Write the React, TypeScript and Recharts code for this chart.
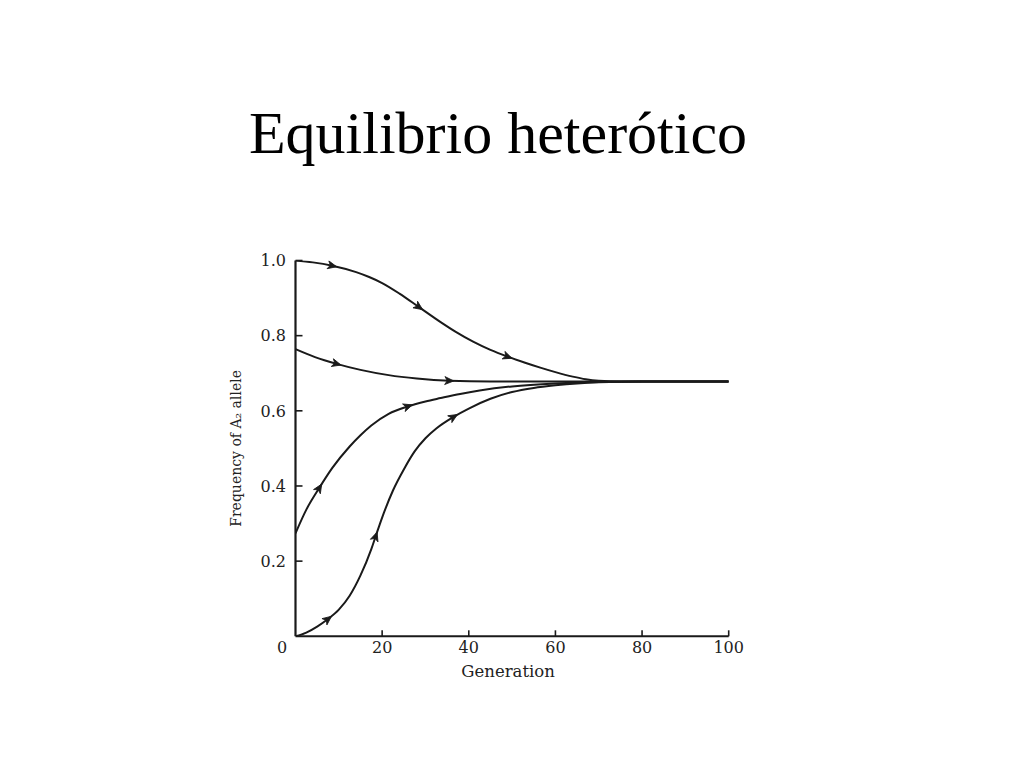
import { LineChart, Line, XAxis, YAxis } from 'recharts'

const GEN_A = [0, 4, 8.5, 14, 17, 20, 24, 28.5, 33.5, 37, 41, 45, 49, 53, 56.5, 60, 64, 67, 70, 75, 80, 90, 100]
const FREQ_A = [1.0, 0.995, 0.986, 0.969, 0.956, 0.94, 0.912, 0.876, 0.836, 0.81, 0.784, 0.762, 0.744, 0.728, 0.715, 0.703, 0.691, 0.684, 0.68, 0.678, 0.678, 0.678, 0.678]
const ARROWS_A = [8.5, 28.5, 49]

const GEN_B = [0, 4.5, 9.5, 15, 21.5, 28, 35.5, 45, 60, 80, 100]
const FREQ_B = [0.764, 0.743, 0.725, 0.709, 0.695, 0.686, 0.68, 0.678, 0.678, 0.678, 0.678]
const ARROWS_B = [9.5, 35.5]

const GEN_C = [0, 2.5, 5.5, 8.5, 12.5, 15, 17.5, 21.5, 26, 30, 33.5, 38, 42.5, 50, 60, 70, 80, 100]
const FREQ_C = [0.274, 0.337, 0.395, 0.448, 0.505, 0.535, 0.561, 0.592, 0.612, 0.625, 0.634, 0.645, 0.654, 0.665, 0.673, 0.677, 0.678, 0.678]
const ARROWS_C = [5.5, 26]

const GEN_D = [0, 2.5, 5, 7.5, 10, 12.5, 15, 17.5, 18.5, 20, 22.5, 25, 27.5, 30, 32.5, 36.5, 40, 45, 50, 55, 60, 65, 70, 80, 90, 100]
const FREQ_D = [0, 0.01, 0.026, 0.046, 0.071, 0.108, 0.162, 0.232, 0.266, 0.316, 0.388, 0.444, 0.492, 0.527, 0.553, 0.584, 0.606, 0.632, 0.65, 0.661, 0.668, 0.673, 0.676, 0.678, 0.678, 0.678]
const ARROWS_D = [7.5, 18.5, 36.5]

const X_TICKS = [0, 20, 40, 60, 80, 100]
const Y_TICKS = [0.2, 0.4, 0.6, 0.8, 1.0]

const TITLE = 'Equilibrio heterótico'
const X_LABEL = 'Generation'
const Y_LABEL = 'Frequency of A\u2082 allele'

const W = 1024
const H = 768
const MARGIN = { top: 260.5, right: 295.3, bottom: 91.7, left: 235.5 }
const Y_AXIS_W = 60
const X_AXIS_H = 40
const PLOT_W = W - MARGIN.left - Y_AXIS_W - MARGIN.right
const PLOT_H = H - MARGIN.top - MARGIN.bottom - X_AXIS_H

const INK = '#1a1a1a'
const TEXT = '#222'
const FONT = '"DejaVu Serif", serif'

const toRows = (gens: number[], vals: number[]) => gens.map((g, i) => ({ gen: g, freq: vals[i] }))

// arrowhead drawn on selected points, pointing along the curve
function makeArrowDot(gens: number[], vals: number[], arrows: number[]) {
  return (props: any) => {
    const { cx, cy, index, points } = props
    if (!arrows.includes(gens[index]) || cx == null) return <g key={`n-${index}`} />
    const a = Math.max(index - 1, 0)
    const b = Math.min(index + 1, gens.length - 1)
    let dx: number
    let dy: number
    if (points && points[a] && points[b]) {
      dx = points[b].x - points[a].x
      dy = points[b].y - points[a].y
    } else {
      dx = ((gens[b] - gens[a]) / 100) * PLOT_W
      dy = -(vals[b] - vals[a]) * PLOT_H
    }
    const ang = (Math.atan2(dy, dx) * 180) / Math.PI
    return (
      <path
        key={`a-${index}`}
        d="M 4.5 0 L -4.5 -4 L -2 0 L -4.5 4 Z"
        fill={INK}
        stroke={INK}
        strokeWidth={0.8}
        transform={`translate(${cx},${cy}) rotate(${ang})`}
      />
    )
  }
}

const XTick = (props: any) => {
  const { x, y, payload } = props
  const v = payload.value
  return (
    <g>
      {v !== 0 && <line x1={x} y1={y} x2={x} y2={y - 6} stroke={INK} strokeWidth={1.6} />}
      <text x={v === 0 ? x - 13.5 : x} y={y + 17} textAnchor="middle" fontFamily={FONT} fontSize={16} fill={TEXT}>
        {v}
      </text>
    </g>
  )
}

const YTick = (props: any) => {
  const { x, y, payload } = props
  return (
    <g>
      <line x1={x} y1={y} x2={x + 7} y2={y} stroke={INK} strokeWidth={1.6} />
      <text x={x - 9.5} y={y + 5.8} textAnchor="end" fontFamily={FONT} fontSize={16} fill={TEXT}>
        {payload.value.toFixed(1)}
      </text>
    </g>
  )
}

const series = [
  { key: 'a', gens: GEN_A, vals: FREQ_A, arrows: ARROWS_A },
  { key: 'b', gens: GEN_B, vals: FREQ_B, arrows: ARROWS_B },
  { key: 'c', gens: GEN_C, vals: FREQ_C, arrows: ARROWS_C },
  { key: 'd', gens: GEN_D, vals: FREQ_D, arrows: ARROWS_D }
]

export default function App() {
  return (
    <div style={{ position: 'absolute', left: 0, top: 0, width: W, height: H, background: '#fff' }}>
      <svg width={W} height={H} style={{ position: 'absolute', left: 0, top: 0 }}>
        <text x={498} y={153.3} textAnchor="middle" fontFamily='"Liberation Serif", "Times New Roman", serif' fontSize={60} fill="#000">
          {TITLE}
        </text>
      </svg>
      <div style={{ position: 'absolute', left: 0, top: 0 }}>
        <LineChart width={W} height={H} margin={MARGIN}>
          <XAxis
            dataKey="gen"
            type="number"
            domain={[0, 100]}
            ticks={X_TICKS}
            allowDataOverflow
            height={X_AXIS_H}
            tickSize={0}
            tickMargin={0}
            tickLine={false}
            tick={<XTick />}
            axisLine={{ stroke: INK, strokeWidth: 2 }}
            label={{
              content: (p: any) => {
                const vb = p.viewBox
                return (
                  <text x={vb.x + vb.width / 2 - 4} y={vb.y + 41} textAnchor="middle" fontFamily={FONT} fontSize={16.5} fill={TEXT}>
                    {X_LABEL}
                  </text>
                )
              }
            }}
          />
          <YAxis
            type="number"
            domain={[0, 1]}
            ticks={Y_TICKS}
            allowDataOverflow
            width={Y_AXIS_W}
            tickSize={0}
            tickMargin={0}
            tickLine={false}
            tick={<YTick />}
            axisLine={{ stroke: INK, strokeWidth: 2.2 }}
            label={{
              content: (p: any) => {
                const vb = p.viewBox
                const lx = vb.x + 5.5
                const ly = vb.y + vb.height / 2
                return (
                  <text x={lx} y={ly} transform={`rotate(-90 ${lx} ${ly})`} textAnchor="middle" fontFamily={FONT} fontSize={14} fill={TEXT}>
                    {Y_LABEL}
                  </text>
                )
              }
            }}
          />
          {series.map((s) => (
            <Line
              key={s.key}
              data={toRows(s.gens, s.vals)}
              dataKey="freq"
              type="monotone"
              stroke={INK}
              strokeWidth={2}
              dot={makeArrowDot(s.gens, s.vals, s.arrows)}
              activeDot={false}
              isAnimationActive={false}
            />
          ))}
        </LineChart>
      </div>
    </div>
  )
}
